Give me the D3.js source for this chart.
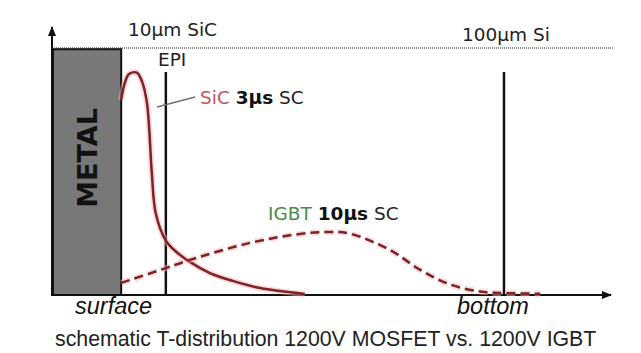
<!DOCTYPE html>
<html>
<head>
<style>
  body { margin: 0; background: #fff; }
  .lbl { font-family: "DejaVu Sans", Verdana, sans-serif; font-size: 18.5px; fill: #222; }
  .ital { font-family: "Liberation Sans", Arial, sans-serif; font-style: italic; font-size: 23.5px; fill: #111; }
</style>
<script src="https://d3js.org/d3.v7.min.js"></script>
</head>
<body>
<svg width="641" height="353"></svg>
<script>
// schematic depth (0..100) and temperature (0..100)
var sicDepth = [12.4, 13.0, 13.8, 15.2, 16.2, 17.0, 17.4, 17.9, 18.6, 20.4, 22.0, 24.7, 28.3, 32.4, 37.3, 45.3];
var sicTemp  = [79.0, 85.5, 89.5, 90.0, 86.0, 78.0, 68.0, 49.0, 33.0, 22.0, 18.0, 13.4, 8.9, 5.7, 2.8, 0.4];
var igbtDepth = [12.4, 20.4, 24.7, 35.5, 44.4, 49.8, 53.5, 60.6, 65.9, 71.3, 76.7, 81.0, 87.5];
var igbtTemp  = [4.9, 10.9, 14.2, 21.1, 24.7, 25.5, 24.8, 18.2, 10.3, 4.3, 1.4, 0.8, 0.5];
var metalEnd = 12.4, epiAt = 20.4, bottomAt = 81;
var caption = "schematic T-distribution 1200V MOSFET vs. 1200V IGBT";

var svg = d3.select("svg");
var x = d3.scaleLinear().domain([0, 100]).range([52, 610]);
var y = d3.scaleLinear().domain([0, 100]).range([295, 48]);

var defs = svg.append("defs");
defs.append("marker").attr("id", "arr").attr("viewBox", "0 0 10 10")
  .attr("refX", 9).attr("refY", 5).attr("markerWidth", 10).attr("markerHeight", 10)
  .attr("markerUnits", "userSpaceOnUse").attr("orient", "auto")
  .append("path").attr("d", "M0,1 L10,5 L0,9 Z").attr("fill", "#111");

// dotted top line
svg.append("line").attr("x1", x(0)).attr("x2", x(100.5)).attr("y1", y(100)).attr("y2", y(100))
  .attr("stroke", "#222").attr("stroke-width", 1).attr("stroke-dasharray", "1,1");

// metal block
svg.append("rect").attr("x", x(0) + 1).attr("y", y(99.5)).attr("width", x(metalEnd) - x(0) - 1)
  .attr("height", y(0) - y(99.5)).attr("fill", "#787878").attr("stroke", "#111").attr("stroke-width", 2);
svg.append("text").attr("transform", "translate(" + 97 + "," + 158 + ") rotate(-90)")
  .attr("text-anchor", "middle").attr("font-family", "DejaVu Sans, Verdana, sans-serif")
  .attr("font-weight", "bold").attr("font-size", 27).attr("fill", "#111").text("METAL");

// axes
svg.append("line").attr("x1", x(0)).attr("x2", x(0)).attr("y1", y(0) + 1).attr("y2", 27)
  .attr("stroke", "#111").attr("stroke-width", 2).attr("marker-end", "url(#arr)");
svg.append("line").attr("x1", x(0) - 1).attr("x2", 611).attr("y1", y(0)).attr("y2", y(0))
  .attr("stroke", "#111").attr("stroke-width", 2).attr("marker-end", "url(#arr)");

// EPI and bottom lines
[epiAt, bottomAt].forEach(function (d) {
  svg.append("line").attr("x1", x(d)).attr("x2", x(d)).attr("y1", 72).attr("y2", y(0))
    .attr("stroke", "#111").attr("stroke-width", 2.5);
});

var line = d3.line().curve(d3.curveCatmullRom.alpha(0.5))
  .x(function (d) { return x(d[0]); }).y(function (d) { return y(d[1]); });
var sic = d3.zip(sicDepth, sicTemp), igbt = d3.zip(igbtDepth, igbtTemp);

function drawCurve(data, dash) {
  svg.append("path").datum(data).attr("d", line).attr("fill", "none")
    .attr("stroke", "#f5b3b3").attr("stroke-width", 6).attr("stroke-opacity", 0.5)
    .attr("stroke-dasharray", dash);
  svg.append("path").datum(data).attr("d", line).attr("fill", "none")
    .attr("stroke", "#7d2228").attr("stroke-width", 2.5).attr("stroke-dasharray", dash);
}
drawCurve(sic, null);
drawCurve(igbt, "9,5");

// leader line
svg.append("line").attr("x1", 157).attr("y1", 107).attr("x2", 195).attr("y2", 97)
  .attr("stroke", "#7d6a6a").attr("stroke-width", 1.3);

// labels
svg.append("text").attr("class", "lbl").attr("x", 128).attr("y", 36).text("10μm SiC");
svg.append("text").attr("class", "lbl").attr("x", 462).attr("y", 41).text("100μm Si");
svg.append("text").attr("class", "lbl").attr("x", 158).attr("y", 66).attr("font-size", 16.5).text("EPI");

var t1 = svg.append("text").attr("class", "lbl").attr("x", 200).attr("y", 104);
t1.append("tspan").attr("fill", "#c4545e").text("SiC ");
t1.append("tspan").attr("font-weight", "bold").attr("fill", "#111").text("3μs");
t1.append("tspan").text(" SC");

var t2 = svg.append("text").attr("class", "lbl").attr("x", 268).attr("y", 220);
t2.append("tspan").attr("fill", "#4a8a4a").text("IGBT ");
t2.append("tspan").attr("font-weight", "bold").attr("fill", "#111").text("10μs");
t2.append("tspan").text(" SC");

svg.append("text").attr("class", "ital").attr("x", 75).attr("y", 314).text("surface");
svg.append("text").attr("class", "ital").attr("x", 457).attr("y", 314).text("bottom");

svg.append("text").attr("x", 55).attr("y", 346)
  .attr("font-family", "Liberation Sans, Arial, sans-serif").attr("font-size", 21.3).attr("fill", "#222")
  .text(caption);
</script>
</body>
</html>
